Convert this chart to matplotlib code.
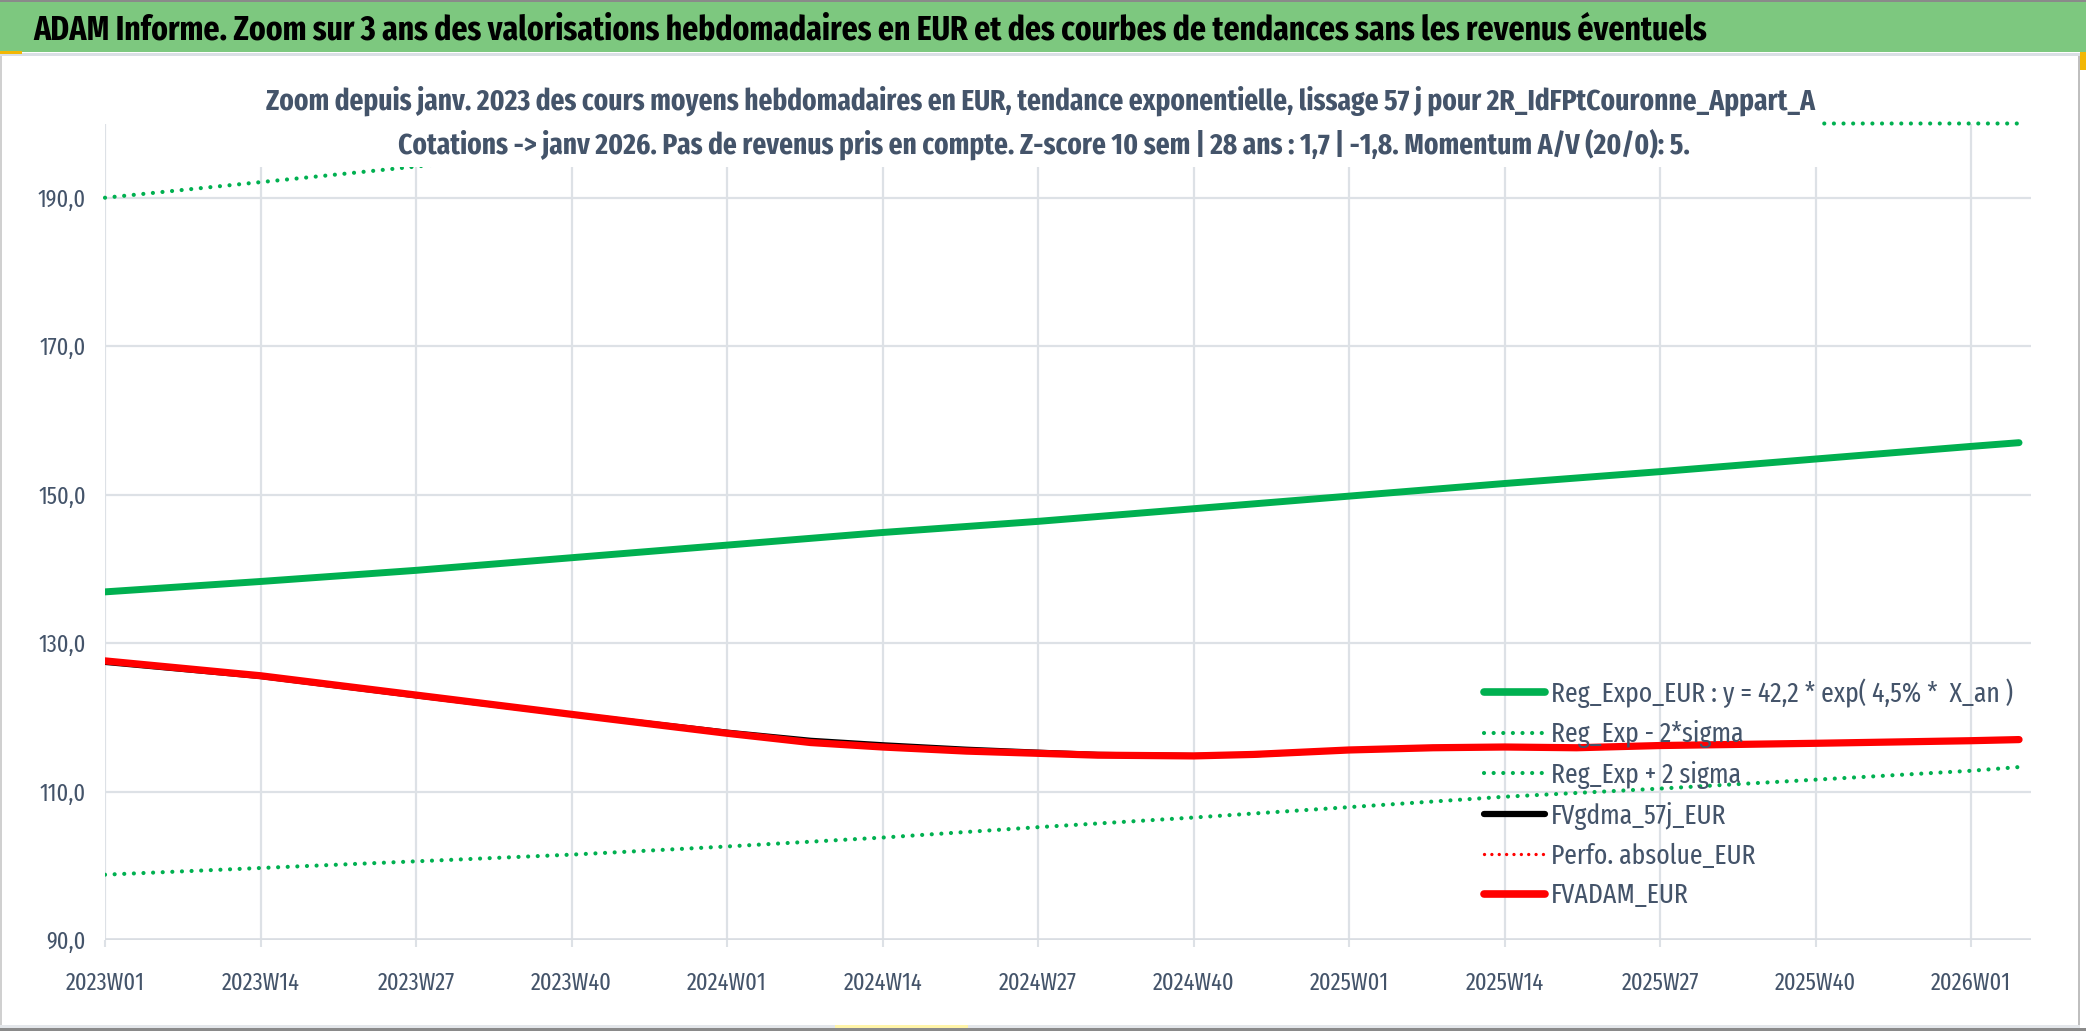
import matplotlib
matplotlib.use('Agg')
import matplotlib.pyplot as plt
from matplotlib import font_manager
from matplotlib.patches import Rectangle
from matplotlib.lines import Line2D

# police condensee si disponible (le rendu Excel est tres serre)
cond = [f for f in font_manager.fontManager.ttflist
        if str(f.stretch) in ('condensed', 'semi-condensed', 'extra-condensed')]
cond_names = sorted({f.name for f in cond})
prefs = ['Fira Sans Extra Condensed', 'Encode Sans Condensed', 'Fira Sans Condensed',
         'Liberation Sans Narrow', 'DejaVu Sans']
base_font = next((p for p in prefs if p in cond_names), 'Liberation Sans')
if base_font == 'DejaVu Sans':
    plt.rcParams['font.stretch'] = 'condensed'
plt.rcParams['font.family'] = [base_font, 'DejaVu Sans']

# --- donnees ---
week_labels = ['2023W01', '2023W14', '2023W27', '2023W40', '2024W01', '2024W14', '2024W27',
               '2024W40', '2025W01', '2025W14', '2025W27', '2025W40', '2026W01']
week_ticks = [0, 13, 26, 39, 52, 65, 78, 91, 104, 117, 130, 143, 156]
n_weeks = 161

trend_idx = [0, 13, 26, 39, 52, 65, 78, 91, 104, 117, 130, 143, 156, 160]
reg_expo = [136.9, 138.3, 139.8, 141.5, 143.2, 144.9, 146.4, 148.1, 149.8, 151.5, 153.1, 154.8, 156.5, 157.0]
reg_minus = [98.8, 99.7, 100.6, 101.5, 102.6, 103.8, 105.2, 106.5, 107.9, 109.3, 110.4, 111.6, 112.8, 113.3]
# bande haute : au-dela de l'axe (200) Excel la dessine sur le bord
reg_plus = [190.0, 192.1, 194.2, 196.4, 198.6, 200.0, 200.0, 200.0, 200.0, 200.0, 200.0, 200.0, 200.0, 200.0]

fv_idx = [0, 13, 26, 39, 52, 59, 65, 72, 78, 83, 91, 96, 104, 111, 117, 123, 130, 143, 156, 160]
fvgdma = [127.4, 125.5, 122.9, 120.4, 118.0, 116.9, 116.3, 115.7, 115.3, 115.0, 114.85, 114.95,
          115.6, 115.9, 116.0, 115.9, 116.2, 116.5, 116.85, 117.0]
fvadam = [127.6, 125.6, 123.0, 120.4, 117.85, 116.6, 116.0, 115.45, 115.15, 114.9, 114.8, 115.0,
          115.6, 115.9, 116.0, 115.9, 116.2, 116.5, 116.85, 117.0]

y_ticks = [90, 110, 130, 150, 170, 190]

title = ("ADAM Informe. Zoom sur 3 ans des valorisations hebdomadaires en EUR "
         "et des courbes de tendances sans les revenus éventuels")
sub1 = ("Zoom depuis janv. 2023 des cours moyens hebdomadaires en EUR, tendance exponentielle, "
        "lissage 57 j pour 2R_IdFPtCouronne_Appart_A")
sub2 = ("Cotations -> janv 2026. Pas de revenus pris en compte. Z-score 10 sem | 28 ans : 1,7 | -1,8. "
        "Momentum A/V (20/0): 5.")
labels = ['Reg_Expo_EUR : y = 42,2 * exp( 4,5% *  X_an )', 'Reg_Exp - 2*sigma', 'Reg_Exp + 2 sigma',
          'FVgdma_57j_EUR', 'Perfo. absolue_EUR', 'FVADAM_EUR']

GREEN = '#00B050'
GRID = '#DDE1E6'
TXT = '#44546A'
W, H = 2086, 1031

fig = plt.figure(figsize=(W / 100, H / 100), dpi=100)
fig.patch.set_facecolor('white')
r = fig.canvas.get_renderer()


def px_rect(x0, y0, x1, y1, **kw):
    # rectangle en pixels (origine en haut a gauche)
    rect = Rectangle((x0 / W, 1 - y1 / H), (x1 - x0) / W, (y1 - y0) / H,
                     transform=fig.transFigure, **kw)
    fig.add_artist(rect)
    return rect


def size_for(s, target, weight='normal'):
    # taille de police donnant la largeur voulue en pixels
    t = fig.text(0, 0, s, fontsize=20, fontweight=weight)
    w = t.get_window_extent(renderer=r).width
    t.remove()
    return 20 * target / w


# bandeau vert
px_rect(0, 0, W, 52, facecolor='#7DC87F', edgecolor='none', zorder=0)
px_rect(0, 0, W, 1.5, facecolor='#8A8A8A', edgecolor='none', zorder=0)
px_rect(0, 53, W, 56, facecolor='#DADFE5', edgecolor='none', zorder=0)
px_rect(0, 51, 22, 54, facecolor='#F2B705', edgecolor='none', zorder=0)
px_rect(2080, 52, W, 70, facecolor='#F2B705', edgecolor='none', zorder=0)
# cadre du graphique
px_rect(2078, 56, 2080, 1027, facecolor='#BFBFBF', edgecolor='none', zorder=0)
px_rect(0, 56, 1.5, 1027, facecolor='#D0D0D0', edgecolor='none', zorder=0)
px_rect(0, 1025, 2080, 1028, facecolor='#E3E6EA', edgecolor='none', zorder=0)
px_rect(0, 1028, W, H, facecolor='#8A8A8A', edgecolor='none', zorder=0)
px_rect(835, 1025, 968, 1028, facecolor='#FFF4A8', edgecolor='none', zorder=0)

ax = fig.add_axes([105 / W, 1 - 940 / H, (2031 - 105) / W, (940 - 123.5) / H])
ax.set_facecolor('none')

dot = (0, (0.01, 2.3))
ax.plot(trend_idx, reg_expo, color=GREEN, lw=5.0, solid_capstyle='round', zorder=3)
ax.plot(trend_idx, reg_minus, color=GREEN, lw=3.0, linestyle=dot, dash_capstyle='round', zorder=3)
ax.plot(trend_idx, reg_plus, color=GREEN, lw=3.0, linestyle=dot, dash_capstyle='round',
        clip_on=False, zorder=3)
ax.plot(fv_idx, fvgdma, color='black', lw=3.8, solid_capstyle='round', zorder=4)
ax.plot(fv_idx, fvadam, color='#FF0000', lw=5.2, solid_capstyle='round', zorder=5)

tick_fs = size_for('2023W01', 79)
ax.set_xlim(0, n_weeks)
ax.set_ylim(90, 200)
ax.set_xticks(week_ticks)
ax.set_xticklabels(week_labels)
ax.set_yticks(y_ticks)
ax.set_yticklabels([f'{v:.1f}'.replace('.', ',') for v in y_ticks])
ax.grid(True, color=GRID, lw=1.6, zorder=0)
ax.set_axisbelow(True)
for s in ax.spines.values():
    s.set_visible(False)
ax.axhline(90, color='#D9DDE2', lw=2.6, zorder=1)
ax.tick_params(axis='x', length=5, width=1.5, color=GRID, pad=18, labelsize=tick_fs, labelcolor=TXT)
ax.tick_params(axis='y', length=0, pad=13.7, labelsize=tick_fs, labelcolor=TXT)

handles = [
    Line2D([], [], color=GREEN, lw=5.5, solid_capstyle='round'),
    Line2D([], [], color=GREEN, lw=3.0, linestyle=dot, dash_capstyle='round'),
    Line2D([], [], color=GREEN, lw=3.0, linestyle=dot, dash_capstyle='round'),
    Line2D([], [], color='black', lw=4.5, solid_capstyle='round'),
    Line2D([], [], color='#FF0000', lw=2.4, linestyle=(0, (0.01, 2.2)), dash_capstyle='round'),
    Line2D([], [], color='#FF0000', lw=5.5, solid_capstyle='round'),
]
leg_fs = size_for(labels[0], 463)
fs_px = leg_fs * 100 / 72


def make_legend(spacing, top):
    lg = ax.legend(handles, labels, loc='upper left', bbox_to_anchor=(1484 / W, 1 - top / H),
                   bbox_transform=fig.transFigure, frameon=False, fontsize=leg_fs,
                   handlelength=61 / fs_px, handletextpad=6 / fs_px,
                   labelspacing=spacing, borderpad=0, borderaxespad=0)
    for t in lg.get_texts():
        t.set_color(TXT)
    lg.set_zorder(6)
    return lg


def row_centers(lg):
    fig.canvas.draw()
    ys = []
    for t in lg.get_texts():
        e = t.get_window_extent(renderer=fig.canvas.get_renderer())
        ys.append(H - (e.y0 + e.y1) / 2)
    return ys


# ajustement de l'interligne (40,5 px) et de la position de la 1re ligne (y = 693 px)
spacing, top = 0.4, 680.0
leg = make_legend(spacing, top)
ys = row_centers(leg)
spacing += (40.5 - (ys[-1] - ys[0]) / 5) / fs_px
leg = make_legend(spacing, top)
ys = row_centers(leg)
top += 693 - ys[0]
leg = make_legend(spacing, top)

# cadre blanc du titre du graphique (cache la courbe qui sort par le haut)
px_rect(112, 60, 1820, 167, facecolor='white', edgecolor='none', zorder=1)

fig.text(33 / W, 1 - 39 / H, title, fontsize=size_for(title, 1677, 'bold'), fontweight='bold',
         color='black', ha='left', va='baseline', zorder=4)
sub_fs = size_for(sub1, 1550, 'bold')
fig.text(1041 / W, 1 - 110 / H, sub1, fontsize=sub_fs, fontweight='bold', color=TXT,
         ha='center', va='baseline', zorder=4)
fig.text(1044 / W, 1 - 154 / H, sub2, fontsize=sub_fs, fontweight='bold',
         color=TXT, ha='center', va='baseline', zorder=4)

fig.savefig('out.png', dpi=100, facecolor='white')
